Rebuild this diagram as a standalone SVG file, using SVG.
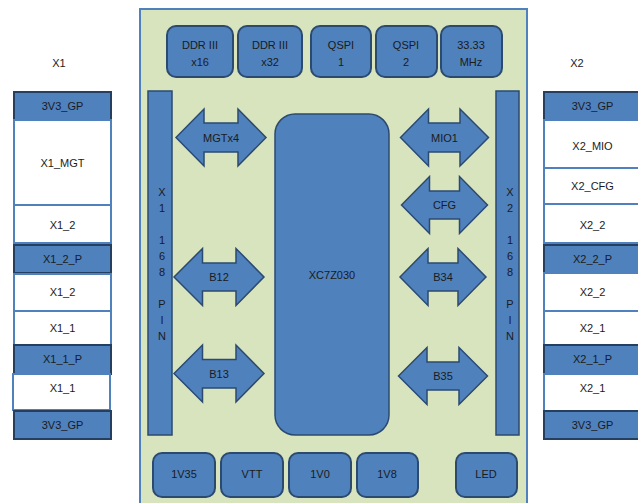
<svg xmlns="http://www.w3.org/2000/svg" width="638" height="503" viewBox="0 0 638 503">
<style>
text{font-family:"Liberation Sans","DejaVu Sans",sans-serif;font-size:11px;fill:#1b1b1b;text-anchor:middle;}
.blue{fill:#4f81bd;stroke:#243f60;stroke-width:2;}
.white{fill:#ffffff;stroke:#4f81bd;stroke-width:2;}
.rbox{fill:#4f81bd;stroke:#2c4a70;stroke-width:2;}
.bar{fill:#4f81bd;stroke:#2c4a70;stroke-width:1.5;}
.arr{fill:#4f81bd;stroke:#2c4a70;stroke-width:1.5;stroke-linejoin:miter;}
</style>
<rect x="0" y="0" width="638" height="503" fill="#ffffff"/>
<g id="board">
<rect x="140" y="9" width="387" height="500" fill="#d7e4bd" stroke="#4f81bd" stroke-width="2"/>
</g>
<g id="ddr16"><rect class="rbox" x="167" y="26" width="66" height="51" rx="9"/><text x="200" y="49">DDR III</text><text x="200" y="66">x16</text></g>
<g id="ddr32"><rect class="rbox" x="238" y="26" width="64" height="51" rx="9"/><text x="270" y="49">DDR III</text><text x="270" y="66">x32</text></g>
<g id="qspi1"><rect class="rbox" x="311" y="26" width="60" height="51" rx="9"/><text x="341" y="49">QSPI</text><text x="341" y="66">1</text></g>
<g id="qspi2"><rect class="rbox" x="376" y="26" width="61" height="51" rx="9"/><text x="406" y="49">QSPI</text><text x="406" y="66">2</text></g>
<g id="clk"><rect class="rbox" x="441" y="26" width="61" height="51" rx="9"/><text x="471" y="49">33.33</text><text x="471" y="66">MHz</text></g>
<g id="v1v35"><rect class="rbox" x="153" y="453" width="62" height="44" rx="9"/><text x="184" y="478">1V35</text></g>
<g id="vtt"><rect class="rbox" x="221" y="453" width="62" height="44" rx="9"/><text x="252" y="478">VTT</text></g>
<g id="v1v0"><rect class="rbox" x="289" y="453" width="62" height="44" rx="9"/><text x="320" y="478">1V0</text></g>
<g id="v1v8"><rect class="rbox" x="357" y="453" width="61" height="44" rx="9"/><text x="387" y="478">1V8</text></g>
<g id="led"><rect class="rbox" x="456" y="453" width="61" height="44" rx="9"/><text x="486" y="478">LED</text></g>
<g id="x1pin"><rect class="bar" x="148" y="91" width="24" height="344"/>
<text x="162" y="196">X</text><text x="162" y="212">1</text><text x="162" y="244">1</text><text x="162" y="260">6</text><text x="162" y="276">8</text><text x="162" y="308">P</text><text x="162" y="324">I</text><text x="162" y="340">N</text></g>
<g id="x2pin"><rect class="bar" x="496" y="91" width="23" height="344"/>
<text x="510" y="196">X</text><text x="510" y="212">2</text><text x="510" y="244">1</text><text x="510" y="260">6</text><text x="510" y="276">8</text><text x="510" y="308">P</text><text x="510" y="324">I</text><text x="510" y="340">N</text></g>
<g id="chip"><rect class="bar" x="275" y="114" width="114" height="321" rx="20"/><text x="332" y="279">XC7Z030</text></g>
<g id="connectors">
<g id="mgt"><path class="arr" d="M176,137.5 L204,109 L204,123 L238,123 L238,109 L266,137.5 L238,166 L238,152 L204,152 L204,166 Z"/><text x="221" y="141.5">MGTx4</text></g>
<g id="b12"><path class="arr" d="M174,277 L202.5,248.5 L202.5,263 L236,263 L236,248.5 L264,277 L236,305.5 L236,291 L202.5,291 L202.5,305.5 Z"/><text x="219" y="281">B12</text></g>
<g id="b13"><path class="arr" d="M174,373.5 L202.5,345 L202.5,359.5 L236,359.5 L236,345 L264,373.5 L236,402 L236,388 L202.5,388 L202.5,402 Z"/><text x="219" y="377.5">B13</text></g>
<g id="mio1"><path class="arr" d="M400.5,137.5 L428.5,109 L428.5,123 L460,123 L460,109 L488.5,137.5 L460,166 L460,152 L428.5,152 L428.5,166 Z"/><text x="444.5" y="141.5">MIO1</text></g>
<g id="cfg"><path class="arr" d="M401.5,205 L429.5,176.5 L429.5,191 L459.5,191 L459.5,176.5 L487.5,205 L459.5,233.5 L459.5,219 L429.5,219 L429.5,233.5 Z"/><text x="444.5" y="209">CFG</text></g>
<g id="b34"><path class="arr" d="M400,277 L428,248.5 L428,263 L458,263 L458,248.5 L486,277 L458,305.5 L458,291 L428,291 L428,305.5 Z"/><text x="443" y="281">B34</text></g>
<g id="b35"><path class="arr" d="M398.5,376 L427,347.5 L427,362 L459,362 L459,347.5 L487.5,376 L459,404.5 L459,390 L427,390 L427,404.5 Z"/><text x="443" y="380">B35</text></g>
</g>
<g id="x1">
<text x="59" y="67">X1</text>
<g id="x1_a"><rect class="blue" x="14" y="92" width="97" height="28"/><text x="62.5" y="110">3V3_GP</text></g>
<g id="x1_b"><rect class="white" x="14" y="120" width="97" height="85"/><text x="62.5" y="167">X1_MGT</text></g>
<g id="x1_c"><rect class="white" x="14" y="205" width="97" height="38"/><text x="62.5" y="229">X1_2</text></g>
<g id="x1_d"><rect class="blue" x="14" y="245" width="97" height="28"/><text x="62.5" y="263">X1_2_P</text></g>
<g id="x1_e"><rect class="white" x="14" y="274" width="97" height="37"/><text x="62.5" y="296">X1_2</text></g>
<g id="x1_f"><rect class="white" x="14" y="311" width="97" height="34"/><text x="62.5" y="332">X1_1</text></g>
<g id="x1_g"><rect class="blue" x="14" y="345" width="97" height="29"/><text x="62.5" y="363">X1_1_P</text></g>
<g id="x1_h"><rect class="white" x="13" y="374" width="97" height="36"/><text x="62.5" y="392">X1_1</text></g>
<g id="x1_i"><rect class="blue" x="14" y="411" width="97" height="28"/><text x="62.5" y="429">3V3_GP</text></g>
</g>
<g id="x2">
<text x="577" y="67">X2</text>
<g id="x2_a"><rect class="blue" x="544" y="92" width="97" height="28"/><text x="592.5" y="110">3V3_GP</text></g>
<g id="x2_b"><rect class="white" x="544" y="120" width="97" height="48"/><text x="592.5" y="150">X2_MIO</text></g>
<g id="x2_c"><rect class="white" x="544" y="168" width="97" height="36"/><text x="592.5" y="190">X2_CFG</text></g>
<g id="x2_d"><rect class="white" x="544" y="204" width="97" height="39"/><text x="592.5" y="229">X2_2</text></g>
<g id="x2_e"><rect class="blue" x="544" y="245" width="97" height="28"/><text x="592.5" y="263">X2_2_P</text></g>
<g id="x2_f"><rect class="white" x="544" y="273" width="97" height="38"/><text x="592.5" y="296">X2_2</text></g>
<g id="x2_g"><rect class="white" x="544" y="311" width="97" height="34"/><text x="592.5" y="332">X2_1</text></g>
<g id="x2_h"><rect class="blue" x="544" y="345" width="97" height="29"/><text x="592.5" y="363">X2_1_P</text></g>
<g id="x2_i"><rect class="white" x="544" y="374" width="97" height="37"/><text x="592.5" y="392">X2_1</text></g>
<g id="x2_j"><rect class="blue" x="544" y="411" width="97" height="28"/><text x="592.5" y="429">3V3_GP</text></g>
</g>
</svg>
